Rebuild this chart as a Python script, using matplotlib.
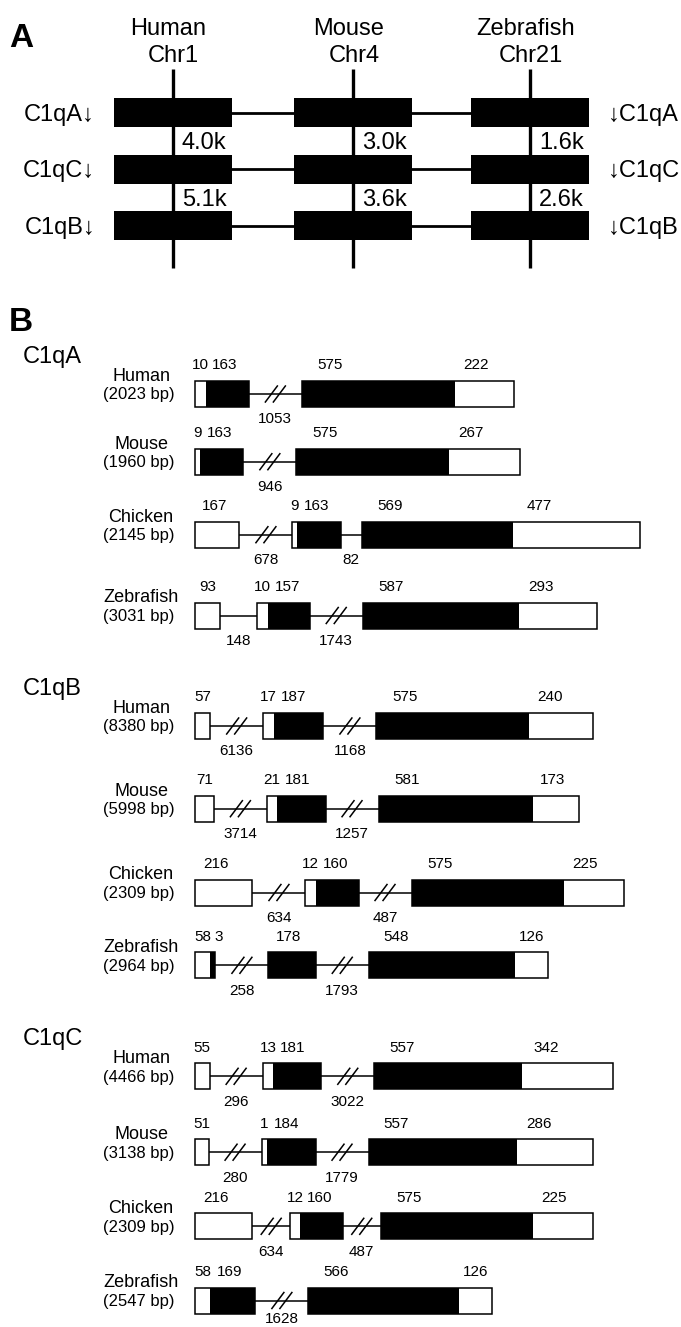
import matplotlib
matplotlib.use("Agg")
import matplotlib.pyplot as plt

plt.rcParams['font.family'] = ['Liberation Sans', 'DejaVu Sans']

# ---------------- Data: panel A (gene cluster synteny) ----------------
A_SPECIES = ["Human", "Mouse", "Zebrafish"]
A_CHROMS = ["Chr1", "Chr4", "Chr21"]
A_GENE_ORDER = ["C1qA", "C1qC", "C1qB"]
A_SPACING_K = [[4.0, 5.1], [3.0, 3.6], [1.6, 2.6]]   # kb between adjacent genes

# ---------------- Data: panel B (gene structures) ----------------
B_GENES = ["C1qA", "C1qB", "C1qC"]
B_SPECIES = ["Human", "Mouse", "Chicken", "Zebrafish"]
B_TOTAL_BP = {
    "C1qA": [2023, 1960, 2145, 3031],
    "C1qB": [8380, 5998, 2309, 2964],
    "C1qC": [4466, 3138, 2309, 2547],
}
# each exon = list of (length in bp, coding?) ; 0 = UTR (white), 1 = coding (black)
C1QA_EXONS = [
    [[(10, 0), (163, 1)], [(575, 1), (222, 0)]],
    [[(9, 0), (163, 1)], [(575, 1), (267, 0)]],
    [[(167, 0)], [(9, 0), (163, 1)], [(569, 1), (477, 0)]],
    [[(93, 0)], [(10, 0), (157, 1)], [(587, 1), (293, 0)]],
]
C1QA_INTRONS = [[1053], [946], [678, 82], [148, 1743]]

C1QB_EXONS = [
    [[(57, 0)], [(17, 0), (187, 1)], [(575, 1), (240, 0)]],
    [[(71, 0)], [(21, 0), (181, 1)], [(581, 1), (173, 0)]],
    [[(216, 0)], [(12, 0), (160, 1)], [(575, 1), (225, 0)]],
    [[(58, 0), (3, 1)], [(178, 1)], [(548, 1), (126, 0)]],
]
C1QB_INTRONS = [[6136, 1168], [3714, 1257], [634, 487], [258, 1793]]

C1QC_EXONS = [
    [[(55, 0)], [(13, 0), (181, 1)], [(557, 1), (342, 0)]],
    [[(51, 0)], [(1, 0), (184, 1)], [(557, 1), (286, 0)]],
    [[(216, 0)], [(12, 0), (160, 1)], [(575, 1), (225, 0)]],
    [[(58, 0), (169, 1)], [(566, 1), (126, 0)]],
]
C1QC_INTRONS = [[296, 3022], [280, 1779], [634, 487], [1628]]

B_EXONS = {"C1qA": C1QA_EXONS, "C1qB": C1QB_EXONS, "C1qC": C1QC_EXONS}
B_INTRONS = {"C1qA": C1QA_INTRONS, "C1qB": C1QB_INTRONS, "C1qC": C1QC_INTRONS}

# ---------------- Layout / style ----------------
W, H = 681, 1327
fig = plt.figure(figsize=(W / 100, H / 100), dpi=100)
ax = fig.add_axes([0, 0, 1, 1])
ax.set_xlim(0, W)
ax.set_ylim(H, 0)
ax.axis('off')


def txt(x, yc, s, fs, ha='center', weight='normal', k=0.35):
    """place text so that its visual (cap) centre sits at yc"""
    ax.text(x, yc + k * fs / 0.72, s, ha=ha, va='baseline', fontsize=fs,
            fontweight=weight, color='black')


# panel letters
txt(9, 35, "A", 24, ha='left', weight='bold')
txt(9, 319, "B", 24, ha='left', weight='bold')

# ---- panel A ----
A_COL_X = [172.7, 353.3, 530.0]
A_ROW_Y = [112.8, 169.2, 225.8]
A_BOX_W, A_BOX_H = 118, 29
A_LINE_TOP, A_LINE_BOT = 69, 268
for j, x in enumerate(A_COL_X):
    ax.plot([x, x], [A_LINE_TOP, A_LINE_BOT], color='k', lw=2.4,
            solid_capstyle='butt', zorder=3)
    txt(x - 4.5, 26.7, A_SPECIES[j], 17)
    txt(x + 1, 53.3, A_CHROMS[j], 17)
    ax.barh(A_ROW_Y, [A_BOX_W] * len(A_ROW_Y), left=x - A_BOX_W / 2,
            height=A_BOX_H, color='k', zorder=2)
    for i, d in enumerate(A_SPACING_K[j]):
        ymid = (A_ROW_Y[i] + A_ROW_Y[i + 1]) / 2
        txt(x + 9, ymid, f"{d:.1f}k", 17, ha='left')
for i, y in enumerate(A_ROW_Y):
    for j in range(len(A_COL_X) - 1):
        ax.plot([A_COL_X[j] + A_BOX_W / 2, A_COL_X[j + 1] - A_BOX_W / 2], [y, y],
                color='k', lw=2.0, zorder=1)
    txt(95, y, A_GENE_ORDER[i] + "\u2193", 17, ha='right')
    txt(608, y, "\u2193" + A_GENE_ORDER[i], 17, ha='left')

# ---- panel B ----
ROW_Y = {"C1qA": [394.0, 461.7, 534.7, 615.5],
         "C1qB": [726.0, 808.7, 892.5, 965.3],
         "C1qC": [1076.3, 1152.2, 1226.3, 1300.5]}
COMPACT_ROWS = {("C1qC", "Chicken")}      # rows drawn with shorter broken introns
X0 = 195.0
BOX_H = 26.0
SCALE = 0.266          # px per bp for exons
FS_NUM = 11
FS_NAME = 13
FS_BP = 12
DIGIT_W = 0.556 * FS_NUM / 0.72


def exon_w(bp):
    if bp < 10:
        return 5.0
    if bp < 30:
        return 10.5
    return bp * SCALE


def intron_w(bp, compact):
    if bp > 200:
        return 37.5 if compact else 53.0
    return bp * 0.255


def draw_break(xm, y):
    for dx in (-4.0, 4.0):
        ax.plot([xm + dx - 6, xm + dx + 6], [y + 8, y - 8], color='k', lw=1.1,
                zorder=4)


def spread(labels):
    """shift top labels right so that they do not overlap"""
    out = []
    for x, s in labels:
        w = len(s) * DIGIT_W
        if out:
            px, ps = out[-1]
            pw = len(ps) * DIGIT_W
            x = max(x, px + pw / 2 + 3 + w / 2)
        out.append((x, s))
    return out


for gene in B_GENES:
    rows = ROW_Y[gene]
    txt(23, rows[0] - 39.5, gene, 17, ha='left')
    for r, sp in enumerate(B_SPECIES):
        yc = rows[r]
        txt(141, yc - 19.5, sp, FS_NAME)
        txt(139, yc + 0.5, f"({B_TOTAL_BP[gene][r]} bp)", FS_BP, k=0.3)
        compact = (gene, sp) in COMPACT_ROWS
        exons = B_EXONS[gene][r]
        introns = B_INTRONS[gene][r]
        x = X0
        top, bottom = [], []
        for e, exon in enumerate(exons):
            start = x
            for bp, coding in exon:
                w = exon_w(bp)
                ax.barh(yc, w, left=x, height=BOX_H,
                        color='k' if coding else 'w', linewidth=0, zorder=2)
                top.append((x + min(w / 2, 16 + 0.08 * w), str(bp)))
                x += w
            ax.barh(yc, x - start, left=start, height=BOX_H, color='none',
                    edgecolor='k', linewidth=1.1, zorder=3)
            if e < len(introns):
                iw = intron_w(introns[e], compact)
                ax.plot([x, x + iw], [yc, yc], color='k', lw=1.1, zorder=1)
                if introns[e] > 200:
                    draw_break(x + iw / 2, yc)
                bottom.append((x + iw / 2, str(introns[e])))
                x += iw
        for lx, s in spread(top):
            txt(lx, yc - BOX_H / 2 - 17, s, FS_NUM)
        for lx, s in bottom:
            txt(lx, min(yc + BOX_H / 2 + 11, H - 9), s, FS_NUM)

fig.savefig("out.png", dpi=100, facecolor='white')
